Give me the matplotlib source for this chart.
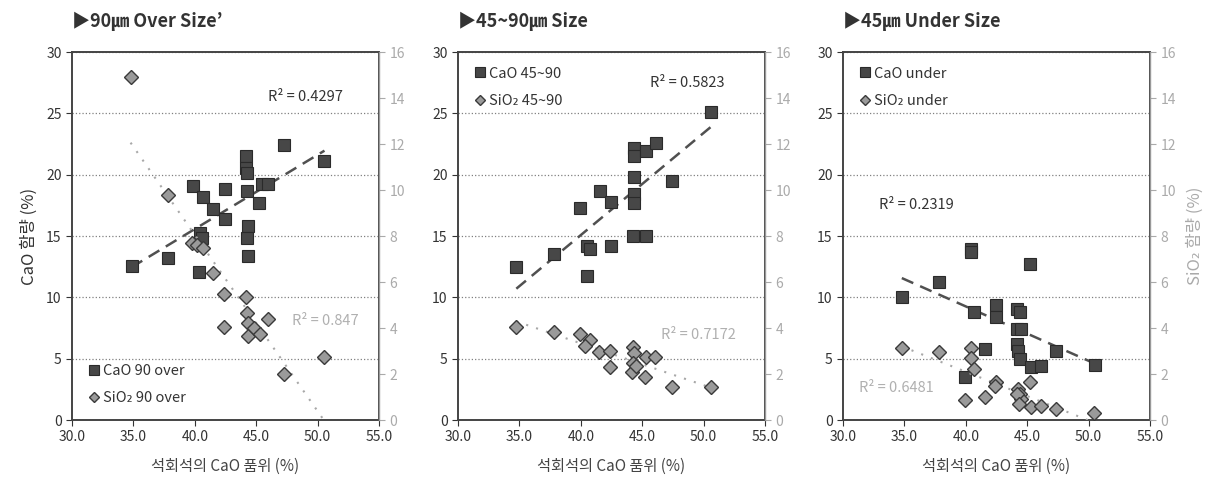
import numpy as np
import matplotlib
matplotlib.use("Agg")
import matplotlib.pyplot as plt

plt.rcParams["font.family"] = ["Noto Sans CJK KR", "DejaVu Sans"]

# ---- data (x = limestone CaO grade %) ----
# 90um over size
over_cao_x = [34.85, 37.84, 39.89, 40.7, 40.38, 40.43, 40.55, 41.52, 42.42, 42.42, 44.19,
              44.19, 44.22, 44.22, 44.35, 44.22, 44.35, 45.25, 45.47, 46.0, 47.29, 50.56]
over_cao_y = [12.54, 13.2, 19.1, 18.2, 12.05, 15.26, 14.8, 17.2, 18.8, 16.35, 21.5,
              20.55, 20.1, 18.65, 15.8, 14.85, 13.36, 17.7, 19.2, 19.2, 22.45, 21.15]
over_sio_x = [34.77, 37.79, 39.75, 40.2, 40.7, 41.52, 42.39, 42.39, 44.16, 44.24, 44.3,
              44.3, 44.8, 45.3, 46.0, 47.29, 50.56]
over_sio_y = [14.92, 9.8, 7.7, 7.6, 7.5, 6.4, 5.5, 4.05, 5.34, 4.66, 4.23,
              3.65, 4.0, 3.72, 4.37, 1.98, 2.74]

# 45~90um size
mid_cao_x = [34.75, 37.78, 39.95, 40.49, 40.49, 40.71, 41.6, 42.47, 42.47, 44.24, 44.32,
             44.32, 44.37, 44.32, 44.32, 45.32, 45.32, 46.13, 47.43, 50.6]
mid_cao_y = [12.44, 13.52, 17.32, 11.76, 14.2, 13.93, 18.63, 17.81, 14.2, 15.01, 19.82,
             22.16, 21.5, 18.4, 17.73, 15.01, 21.94, 22.62, 19.5, 25.12]
mid_sio_x = [34.75, 37.78, 39.9, 40.71, 40.36, 41.52, 42.39, 42.34, 44.24, 44.37, 44.24,
             44.16, 44.5, 45.32, 46.08, 45.24, 47.43, 50.6]
mid_sio_y = [4.03, 3.84, 3.74, 3.48, 3.23, 2.94, 2.98, 2.32, 3.16, 2.9, 2.5,
             2.1, 2.36, 2.75, 2.75, 1.85, 1.45, 1.45]

# 45um under size
und_cao_x = [34.79, 37.82, 40.39, 40.39, 40.69, 39.93, 41.55, 42.42, 42.42, 44.2, 44.39,
             44.2, 44.53, 44.2, 44.25, 44.39, 45.2, 45.33, 46.1, 47.37, 50.56]
und_cao_y = [9.99, 11.21, 13.93, 13.66, 8.77, 3.48, 5.78, 9.39, 8.36, 9.04, 8.77,
             7.41, 7.41, 6.19, 5.65, 4.97, 12.71, 4.29, 4.43, 5.65, 4.48]
und_sio_x = [34.79, 37.82, 40.39, 40.39, 40.69, 39.93, 41.55, 42.42, 42.37, 44.26, 44.39,
             44.53, 44.2, 44.35, 45.2, 45.33, 46.1, 47.32, 50.48]
und_sio_y = [3.13, 2.94, 3.13, 2.69, 2.22, 0.88, 0.98, 1.64, 1.49, 1.35, 1.13,
             0.91, 1.13, 0.7, 1.64, 0.55, 0.62, 0.48, 0.3]

titles = ["▶90㎛ Over Size’", "▶45~90㎛ Size", "▶45㎛ Under Size"]
cao_labels = ["CaO 90 over", "CaO 45~90", "CaO under"]
sio_labels = ["SiO₂ 90 over", "SiO₂ 45~90", "SiO₂ under"]
r2_cao = ["R² = 0.4297", "R² = 0.5823", "R² = 0.2319"]
r2_sio = ["R² = 0.847", "R² = 0.7172", "R² = 0.6481"]
# text anchors (x, y on CaO axis)
r2_cao_pos = [(46.0, 26.3), (45.6, 27.5), (32.9, 17.5)]
r2_sio_pos = [(47.9, 8.1), (46.5, 6.9), (31.3, 2.6)]
legend_loc = ["lower left", "upper left", "upper left"]

panels = [
    (over_cao_x, over_cao_y, over_sio_x, over_sio_y),
    (mid_cao_x, mid_cao_y, mid_sio_x, mid_sio_y),
    (und_cao_x, und_cao_y, und_sio_x, und_sio_y),
]

LIGHT = "#a8a8a8"

fig = plt.figure(figsize=(12.22, 4.86), dpi=100)
lefts = [72, 458, 843]
for i, (cx, cy, sx, sy) in enumerate(panels):
    ax = fig.add_axes([lefts[i] / 1222, 1 - 420 / 486, 307 / 1222, 368 / 486])
    ax2 = ax.twinx()

    cx, cy, sx, sy = map(np.asarray, (cx, cy, sx, sy))

    h1, = ax.plot(cx, cy, ls="none", marker="s", ms=9, mfc="#474747", mec="#2a2a2a",
                  mew=0.8, label=cao_labels[i], zorder=4)
    h2, = ax2.plot(sx, sy, ls="none", marker="D", ms=7, mfc="#9a9a9a", mec="#3a3a3a",
                   mew=1.0, label=sio_labels[i], zorder=4)

    # linear trend lines
    p = np.polyfit(cx, cy, 1)
    xs = np.array([cx.min(), cx.max()])
    ax.plot(xs, np.polyval(p, xs), ls=(0, (5, 3)), color="#505050", lw=1.8, zorder=3)
    q = np.polyfit(sx, sy, 1)
    xs2 = np.array([sx.min(), sx.max()])
    ax2.plot(xs2, np.polyval(q, xs2), ls=(0, (1, 4)), color=LIGHT, lw=1.5, zorder=3)

    ax.set_xlim(30, 55)
    ax.set_ylim(0, 30)
    ax2.set_ylim(0, 16)
    ax.set_xticks(np.arange(30, 56, 5))
    ax.set_xticklabels([f"{v:.1f}" for v in np.arange(30, 56, 5)])
    ax.set_yticks(np.arange(0, 31, 5))
    ax2.set_yticks(np.arange(0, 17, 2))

    ax.grid(axis="y", ls=":", color="#808080", lw=0.9)
    ax.tick_params(axis="both", labelsize=10, colors="#333333", length=4, width=0.8)
    ax2.tick_params(axis="y", labelsize=10, colors="#aaaaaa", length=4, width=0.8)
    for sp in ax.spines.values():
        sp.set_color("#444444")
        sp.set_linewidth(1.4)
    ax2.spines["right"].set_color("#999999")
    ax2.spines["right"].set_linewidth(1.0)
    for s in ("left", "top", "bottom"):
        ax2.spines[s].set_visible(False)

    ax.text(*r2_cao_pos[i], r2_cao[i], fontsize=10.5, color="#333333", va="center", zorder=5)
    ax.text(*r2_sio_pos[i], r2_sio[i], fontsize=10.5, color="#b0b0b0", va="center", zorder=5)

    ax.set_xlabel("석회석의 CaO 품위 (%)", fontsize=11, color="#444444", labelpad=10)
    ax.set_title(titles[i], loc="left", fontsize=13, fontweight="bold", color="#333333", pad=18)

    leg = ax2.legend([h1, h2], [cao_labels[i], sio_labels[i]], loc=legend_loc[i],
                     frameon=False, fontsize=10.5, handletextpad=0.1, handlelength=1.0,
                     labelspacing=0.9, borderaxespad=0.6, markerscale=0.75)
    for t in leg.get_texts():
        t.set_color("#333333")

    if i == 0:
        ax.set_ylabel("CaO 함량 (%)", fontsize=12, color="#333333", labelpad=6)
    if i == 2:
        ax2.set_ylabel("SiO₂ 함량 (%)", fontsize=12, color="#aaaaaa", labelpad=8)

fig.savefig("out.png", dpi=100)
